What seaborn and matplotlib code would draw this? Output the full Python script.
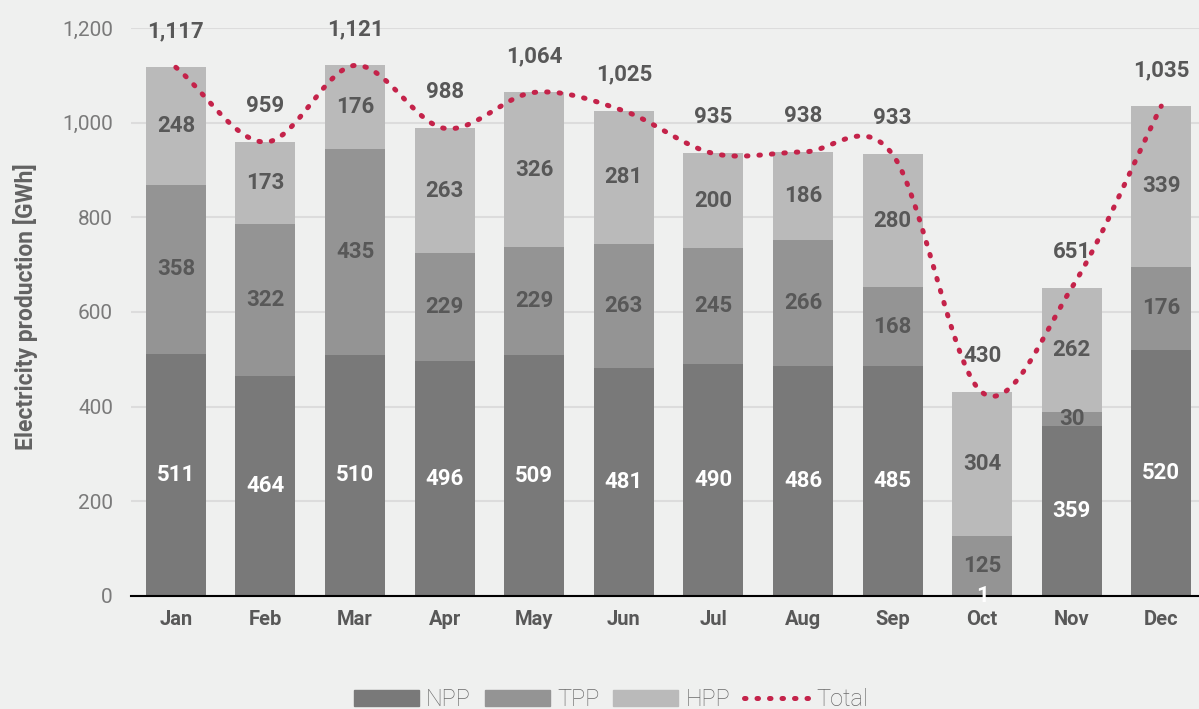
import numpy as np
import seaborn as sns
import matplotlib.pyplot as plt
from matplotlib.patches import Patch
from matplotlib.lines import Line2D
from matplotlib.ticker import FuncFormatter, FixedLocator

months = ["Jan", "Feb", "Mar", "Apr", "May", "Jun",
          "Jul", "Aug", "Sep", "Oct", "Nov", "Dec"]
npp = [511, 464, 510, 496, 509, 481, 490, 486, 485, 1, 359, 520]
tpp = [358, 322, 435, 229, 229, 263, 245, 266, 168, 125, 30, 176]
hpp = [248, 173, 176, 263, 326, 281, 200, 186, 280, 304, 262, 339]
total = [1117, 959, 1121, 988, 1064, 1025, 935, 938, 933, 430, 651, 1035]

BG = "#eff0ef"
C_NPP, C_TPP, C_HPP = "#797979", "#949494", "#bababa"
C_LINE = "#c4234a"
TXT = "#585858"
DOTS = (0, (0.3, 2.2))

sns.set_style("white", {"axes.facecolor": BG, "figure.facecolor": BG})
plt.rcParams["font.family"] = ["Roboto", "DejaVu Sans"]


def smooth(y, n=40):
    # Catmull-Rom style cubic through the monthly totals
    y = np.asarray(y, float)
    m = np.gradient(y)
    xs, ys = [], []
    for i in range(len(y) - 1):
        t = np.linspace(0, 1, n, endpoint=(i == len(y) - 2))
        h00 = 2 * t**3 - 3 * t**2 + 1
        h10 = t**3 - 2 * t**2 + t
        h01 = -2 * t**3 + 3 * t**2
        h11 = t**3 - t**2
        xs.append(i + t)
        ys.append(h00 * y[i] + h10 * m[i] + h01 * y[i + 1] + h11 * m[i + 1])
    return np.concatenate(xs), np.concatenate(ys)


fig = plt.figure(figsize=(11.99, 7.09), dpi=100)
ax = fig.add_axes([0.1093, 0.1594, 0.8966, 0.8011])

npp_a, tpp_a, hpp_a = np.array(npp), np.array(tpp), np.array(hpp)
layers = [
    (npp_a + tpp_a + hpp_a, C_HPP),
    (npp_a + tpp_a, C_TPP),
    (npp_a, C_NPP),
]
for heights, col in layers:
    sns.barplot(x=months, y=heights, color=col, width=0.67, saturation=1,
                linewidth=0, ax=ax, zorder=2)

# segment labels
lab_kw = dict(ha="center", va="center", fontsize=16, fontweight="bold",
              zorder=5)
for i in range(len(months)):
    ax.text(i, npp[i] / 2, str(npp[i]), color="white", **lab_kw)
    ax.text(i, npp[i] + tpp[i] / 2, str(tpp[i]), color=TXT, **lab_kw)
    ax.text(i, npp[i] + tpp[i] + hpp[i] / 2, str(hpp[i]), color=TXT, **lab_kw)
    ax.annotate(f"{total[i]:,}", (i, total[i]), xytext=(0, 26),
                textcoords="offset points", color=TXT, **lab_kw)

# total line
sx, sy = smooth(total)
ax.plot(sx, sy, color=C_LINE, lw=3.6, linestyle=DOTS,
        dash_capstyle="round", zorder=4)

ax.set_xlim(-0.5, 11.5)
ax.set_ylim(0, 1200)
ax.set_yticks(range(0, 1201, 200))
ax.yaxis.set_major_formatter(FuncFormatter(lambda v, p: f"{int(v):,}"))
ax.grid(axis="y", color="#dcdcdc", lw=1.5)
ax.set_axisbelow(True)
for s in ["left", "right", "top"]:
    ax.spines[s].set_visible(False)
ax.spines["bottom"].set_color("black")
ax.spines["bottom"].set_linewidth(1.5)

ax.tick_params(axis="y", length=0, pad=13, labelsize=15, labelcolor="#7a7a7a")
ax.tick_params(axis="x", which="major", length=0, pad=10, labelsize=14.5,
               labelcolor=TXT)
for lab in ax.get_xticklabels():
    lab.set_fontweight("bold")
ax.xaxis.set_minor_locator(FixedLocator(np.arange(-0.5, 12, 1)))
ax.tick_params(axis="x", which="minor", length=5, width=1.5, color="black")

ax.set_xlabel("")
ax.set_ylabel("Electricity production [GWh]", fontsize=16.5, fontweight="bold",
              color="#626262")
ax.yaxis.set_label_coords(-0.087, 0.51)

handles = [
    Patch(color=C_NPP, label="NPP"),
    Patch(color=C_TPP, label="TPP"),
    Patch(color=C_HPP, label="HPP"),
    Line2D([0], [0], color=C_LINE, lw=3.6, linestyle=DOTS,
           dash_capstyle="round", label="Total"),
]
leg = fig.legend(handles=handles, loc="center", ncol=4,
                 bbox_to_anchor=(611 / 1199, 0.013), frameon=False,
                 fontsize=17, handlelength=2.75, handleheight=0.64,
                 handletextpad=0.3, columnspacing=0.6, borderpad=0)
for t in leg.get_texts():
    t.set_color("#6a6a6a")
    t.set_fontweight("light")

fig.savefig("out.png", dpi=100, facecolor=BG)
